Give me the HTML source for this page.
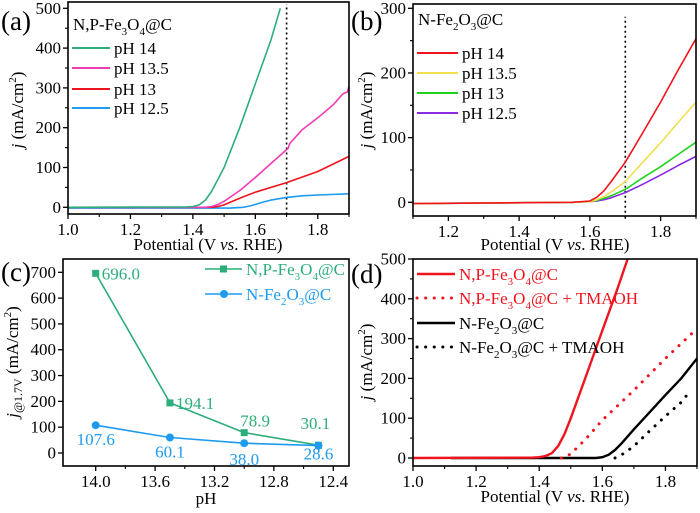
<!DOCTYPE html>
<html><head><meta charset="utf-8">
<style>
html,body{margin:0;padding:0;background:#fff;}
svg, svg text{font-family:"Liberation Serif","DejaVu Serif",serif;}
</style></head>
<body>
<svg id="fig" width="700" height="508" viewBox="0 0 700 508" xmlns="http://www.w3.org/2000/svg" font-family="Liberation Serif, DejaVu Serif, serif"></svg>
<script>
// ---------- DATA ----------
// Panel (a): N,P-Fe3O4@C
const aPH14X=[1.0,1.38,1.40,1.42,1.44,1.46,1.48,1.5,1.55,1.6,1.65,1.68];
const aPH14Y=[0,1,2,6,18,40,70,100,200,310,420,500];
const aPH135X=[1.0,1.44,1.46,1.48,1.5,1.55,1.6,1.65,1.7,1.705,1.71,1.75,1.8,1.85,1.88,1.895,1.9];
const aPH135Y=[0,0,2,7,15,42,75,110,145,148,160,195,225,258,285,290,305];
const aPH13X=[1.0,1.46,1.48,1.5,1.52,1.56,1.6,1.7,1.8,1.9];
const aPH13Y=[0,0,2,6,13,26,38,62,90,128];
const aPH125X=[1.0,1.52,1.56,1.58,1.6,1.62,1.65,1.7,1.75,1.8,1.9];
const aPH125Y=[-2,-2,0,3,7,12,18,25,29,31,34];
// Panel (b): N-Fe2O3@C
const bX=[1.1,1.55,1.6,1.62,1.64,1.66,1.7,1.75,1.8,1.85,1.9];
const bPH14Y=[-2,0,2,8,18,32,62,108,155,205,253];
const bPH135Y=[-2,0,1,4,9,16,32,62,92,124,155];
const bPH13Y=[-2,0,1,3,6,10,20,38,55,74,93];
const bPH125Y=[-2,0,1,2,4,7,15,28,42,57,71];
// Panel (c): current at 1.7 V vs pH
const cPH=[14.0,13.5,13.0,12.5];
const cNP=[696.0,194.1,78.9,30.1];
const cN=[107.6,60.1,38.0,28.6];
const cNPLabels=["696.0","194.1","78.9","30.1"];
const cNLabels=["107.6","60.1","38.0","28.6"];
// Panel (d): TMAOH comparison
const dNPX=[1.0,1.38,1.40,1.42,1.44,1.46,1.48,1.5,1.55,1.6,1.65,1.68];
const dNPY=[0,1,2,5,12,30,60,100,210,320,430,500];
const dNPTX=[1.47,1.5,1.55,1.6,1.7,1.8,1.9];
const dNPTY=[0,10,50,95,170,250,325];
const dNX=[1.12,1.58,1.6,1.62,1.64,1.66,1.7,1.75,1.8,1.85,1.9];
const dNY=[0,0,2,8,20,36,72,115,158,200,250];
const dNTX=[1.64,1.67,1.7,1.75,1.8,1.85,1.88];
const dNTY=[0,12,30,68,105,140,170];
// ticks
const aYTicks=[0,100,200,300,400,500];
const aXTicks=[1.0,1.2,1.4,1.6,1.8];
const bYTicks=[0,100,200,300];
const bXTicks=[1.2,1.4,1.6,1.8];
const cYTicks=[0,100,200,300,400,500,600,700];
const cXTicks=[14.0,13.6,13.2,12.8,12.4];
const dYTicks=[0,100,200,300,400,500];
const dXTicks=[1.0,1.2,1.4,1.6,1.8];

// ---------- HELPERS ----------
const svg=document.getElementById('fig');
const NS='http://www.w3.org/2000/svg';
const FF='Liberation Serif, DejaVu Serif, serif';
function mk(tag,attrs,parent){const e=document.createElementNS(NS,tag);for(const k in attrs)e.setAttribute(k,attrs[k]);if(tag==='text')e.setAttribute('font-family',FF);(parent||svg).appendChild(e);return e;}
function scale(d0,d1,r0,r1){return v=>r0+(v-d0)/(d1-d0)*(r1-r0);}

function frame(p,name){
  const r=mk('rect',{x:p.l,y:p.t,width:p.r-p.l,height:p.b-p.t,fill:'none',stroke:'#000','stroke-width':1.6});
  
  
}
function axes(p,sx,sy,xt,yt,name,xfmt,minorX,minorY){
  const g=mk('g',{});
  
  
  xt.forEach(v=>{const x=sx(v);
    mk('line',{x1:x,x2:x,y1:p.b,y2:p.b+5,stroke:'#000','stroke-width':1.3},g);
    const t=mk('text',{x:x,y:p.b+21,'text-anchor':'middle','font-size':17},g);t.textContent=xfmt(v);
    
    
  });
  minorX.forEach(v=>{const x=sx(v);mk('line',{x1:x,x2:x,y1:p.b,y2:p.b+3,stroke:'#000','stroke-width':1.1},g);});
  yt.forEach(v=>{const y=sy(v);
    mk('line',{x1:p.l-5,x2:p.l,y1:y,y2:y,stroke:'#000','stroke-width':1.3},g);
    const t=mk('text',{x:p.l-7,y:y+5.5,'text-anchor':'end','font-size':17},g);t.textContent=v;
    
    
  });
  minorY.forEach(v=>{const y=sy(v);mk('line',{x1:p.l-3,x2:p.l,y1:y,y2:y,stroke:'#000','stroke-width':1.1},g);});
}
function line(xs,ys,sx,sy,color,name,dotted,w){
  const pts=xs.map((x,i)=>sx(x).toFixed(1)+','+sy(ys[i]).toFixed(1)).join(' ');
  const a={points:pts,fill:'none',stroke:color,'stroke-width':w||1.6,'stroke-linejoin':'round'};
  if(dotted){a['stroke-dasharray']='0.1 8.5';a['stroke-linecap']='round';a['stroke-width']=3;}
  const e=mk('polyline',a);
  
  
  return e;
}
function txt(x,y,html,size,attrs,name){
  const t=mk('text',Object.assign({x:x,y:y,'font-size':size},attrs||{}));
  t.innerHTML=html;
  
  
  return t;
}
function legendLine(x1,x2,y,color,label,name,dotted,lw,textColor){
  const g=mk('g',{});
  
  
  const a={x1:x1,x2:x2,y1:y,y2:y,stroke:color,'stroke-width':lw||2};
  if(dotted){a['stroke-dasharray']='0.1 8.5';a['stroke-linecap']='round';a['stroke-width']=3;}
  mk('line',a,g);
  const t=mk('text',{x:x2+4,y:y+6,'font-size':17,fill:textColor||'#000'},g);
  t.innerHTML=label;
  return g;
}
function minorRange(a,b,step){const r=[];for(let v=a;v<=b+1e-9;v+=step)r.push(+v.toFixed(3));return r;}
const f1=v=>v.toFixed(1);
const jTitle='<tspan font-style="italic">j</tspan> (mA/cm<tspan font-size="11" dy="-7">2</tspan><tspan dy="7">)</tspan>';

// ---------- PANEL A ----------
(function(){
  const p={l:68,r:349,t:2,b:214};
  const sx=scale(1.0,1.9,p.l,p.r), sy=scale(0,500,207.3,8.3);
  axes(p,sx,sy,aXTicks,aYTicks,'panel-a',f1,minorRange(1.1,1.9,0.2),minorRange(50,450,100));
  line([1.7,1.7],[-18,510],sx,sy,'#000','dashed-line-1.7V',false).setAttribute('stroke-dasharray','2 3');
  line(aPH125X,aPH125Y,sx,sy,'#1E9BF0','curve-ph12.5');
  line(aPH13X,aPH13Y,sx,sy,'#F0141E','curve-ph13');
  line(aPH135X,aPH135Y,sx,sy,'#F03CB4','curve-ph13.5');
  line(aPH14X,aPH14Y,sx,sy,'#2CAE7A','curve-ph14');
  frame(p,'panel-a');
  txt(73,30,'N,P-Fe<tspan font-size="11" dy="5">3</tspan><tspan dy="-5">O</tspan><tspan font-size="11" dy="5">4</tspan><tspan dy="-5">@C</tspan>',17,{},'panel-a-title');
  legendLine(72,110,48,'#2CAE7A','pH 14','legend-ph14');
  legendLine(72,110,68,'#F03CB4','pH 13.5','legend-ph13.5');
  legendLine(72,110,89,'#F0141E','pH 13','legend-ph13');
  legendLine(72,110,108,'#1E9BF0','pH 12.5','legend-ph12.5');
  txt(23,110,jTitle,17,{'text-anchor':'middle',transform:'rotate(-90 23 110)'},'panel-a-y-axis-title');
  txt(208,250,'Potential (V <tspan font-style="italic">vs</tspan>. RHE)',17,{'text-anchor':'middle'},'panel-a-x-axis-title');
  txt(1,30,'(a)',27,{},'panel-a-label');
})();

// ---------- PANEL B ----------
(function(){
  const p={l:413,r:696,t:4,b:216};
  const sx=scale(1.1,1.9,p.l,p.r), sy=scale(0,300,202.3,8.3);
  axes(p,sx,sy,bXTicks,bYTicks,'panel-b',f1,minorRange(1.1,1.9,0.1).filter(v=>Math.round(v*10)%2===1),minorRange(50,250,100));
  line([1.7,1.7],[-24,287],sx,sy,'#000','dashed-line-1.7V').setAttribute('stroke-dasharray','2 3');
  line(bX,bPH125Y,sx,sy,'#8A2BE2','curve-ph12.5');
  line(bX,bPH13Y,sx,sy,'#1FD21F','curve-ph13');
  line(bX,bPH135Y,sx,sy,'#F0E050','curve-ph13.5');
  line(bX,bPH14Y,sx,sy,'#F0141E','curve-ph14');
  frame(p,'panel-b');
  txt(418,25,'N-Fe<tspan font-size="11" dy="5">2</tspan><tspan dy="-5">O</tspan><tspan font-size="11" dy="5">3</tspan><tspan dy="-5">@C</tspan>',17,{},'panel-b-title');
  legendLine(417,458,53,'#F0141E','pH 14','legend-ph14');
  legendLine(417,458,73,'#F0E050','pH 13.5','legend-ph13.5');
  legendLine(417,458,93,'#1FD21F','pH 13','legend-ph13');
  legendLine(417,458,113,'#8A2BE2','pH 12.5','legend-ph12.5');
  txt(372,110,jTitle,17,{'text-anchor':'middle',transform:'rotate(-90 372 110)'},'panel-b-y-axis-title');
  txt(555,250,'Potential (V <tspan font-style="italic">vs</tspan>. RHE)',17,{'text-anchor':'middle'},'panel-b-x-axis-title');
  txt(351,30,'(b)',27,{},'panel-b-label');
})();

// ---------- PANEL C ----------
(function(){
  const p={l:63,r:349,t:259,b:466};
  const sx=scale(14.0,12.4,95.7,333.3), sy=scale(0,700,453,272.3);
  axes(p,sx,sy,cXTicks,cYTicks,'panel-c',f1,[13.8,13.4,13.0,12.6],[]);
  const green='#2CAE7A', blue='#1E9BF0';
  line(cPH,cNP,sx,sy,green,'series-np-fe3o4');
  line(cPH,cN,sx,sy,blue,'series-n-fe2o3');
  cPH.forEach((v,i)=>{
    const r=mk('rect',{x:sx(v)-3.5,y:sy(cNP[i])-3.5,width:7,height:7,fill:green});
    
    
    const c=mk('circle',{cx:sx(v),cy:sy(cN[i]),r:4,fill:blue});
    
    
  });
  const npOff=[[6,6],[6,6],[-4,-6],[-18,-16]];
  cPH.forEach((v,i)=>{txt(sx(v)+npOff[i][0],sy(cNP[i])+npOff[i][1],cNPLabels[i],17,{fill:green},'value-label-np');});
  const nOff=[20,20,22,14];
  cPH.forEach((v,i)=>{txt(sx(v),sy(cN[i])+nOff[i],cNLabels[i],17,{fill:blue,'text-anchor':'middle'},'value-label-n');});
  frame(p,'panel-c');
  const lg=mk('g',{});
  
  
  mk('line',{x1:205,x2:242,y1:269,y2:269,stroke:green,'stroke-width':1.6},lg);
  mk('rect',{x:220,y:265.5,width:7,height:7,fill:green},lg);
  const t1=mk('text',{x:246,y:275,'font-size':17,fill:green},lg);
  t1.innerHTML='N,P-Fe<tspan font-size="11" dy="5">3</tspan><tspan dy="-5">O</tspan><tspan font-size="11" dy="5">4</tspan><tspan dy="-5">@C</tspan>';
  const lg2=mk('g',{});
  
  
  mk('line',{x1:205,x2:242,y1:294,y2:294,stroke:blue,'stroke-width':1.6},lg2);
  mk('circle',{cx:224,cy:294,r:4,fill:blue},lg2);
  const t2=mk('text',{x:246,y:300,'font-size':17,fill:blue},lg2);
  t2.innerHTML='N-Fe<tspan font-size="11" dy="5">2</tspan><tspan dy="-5">O</tspan><tspan font-size="11" dy="5">3</tspan><tspan dy="-5">@C</tspan>';
  txt(18,362,'<tspan font-style="italic">j</tspan><tspan font-size="12" dy="4">@1.7V</tspan><tspan dy="-4"> (mA/cm</tspan><tspan font-size="11" dy="-7">2</tspan><tspan dy="7">)</tspan>',17,{'text-anchor':'middle',transform:'rotate(-90 18 362)'},'panel-c-y-axis-title');
  txt(206,504,'pH',17,{'text-anchor':'middle'},'panel-c-x-axis-title');
  txt(1,281,'(c)',27,{},'panel-c-label');
})();

// ---------- PANEL D ----------
(function(){
  const p={l:413,r:697,t:259,b:466};
  const sx=scale(1.0,1.9,p.l,p.r), sy=scale(0,500,458,259);
  axes(p,sx,sy,dXTicks,dYTicks,'panel-d',f1,minorRange(1.1,1.9,0.2),minorRange(50,450,100));
  line(dNTX,dNTY,sx,sy,'#000','curve-n-fe2o3-tmaoh',true);
  line(dNX,dNY,sx,sy,'#000','curve-n-fe2o3',false,2.4);
  line(dNPTX,dNPTY,sx,sy,'#F0141E','curve-np-fe3o4-tmaoh',true);
  line(dNPX,dNPY,sx,sy,'#F0141E','curve-np-fe3o4',false,2.4);
  frame(p,'panel-d');
  const s3='<tspan font-size="11" dy="5">3</tspan><tspan dy="-5">O</tspan><tspan font-size="11" dy="5">4</tspan><tspan dy="-5">@C</tspan>';
  const s2='<tspan font-size="11" dy="5">2</tspan><tspan dy="-5">O</tspan><tspan font-size="11" dy="5">3</tspan><tspan dy="-5">@C</tspan>';
  legendLine(417,455,274,'#F0141E','N,P-Fe'+s3,'legend-np-fe3o4',false,2.6,'#F0141E');
  legendLine(417,455,298,'#F0141E','N,P-Fe'+s3+' + TMAOH','legend-np-fe3o4-tmaoh',true,null,'#F0141E');
  legendLine(417,455,323,'#000','N-Fe'+s2,'legend-n-fe2o3',false,2.6);
  legendLine(417,455,347,'#000','N-Fe'+s2+' + TMAOH','legend-n-fe2o3-tmaoh',true);
  txt(372,362,jTitle,17,{'text-anchor':'middle',transform:'rotate(-90 372 362)'},'panel-d-y-axis-title');
  txt(555,502,'Potential (V <tspan font-style="italic">vs</tspan>. RHE)',17,{'text-anchor':'middle'},'panel-d-x-axis-title');
  txt(351,283,'(d)',27,{},'panel-d-label');
})();
</script>
</body></html>
